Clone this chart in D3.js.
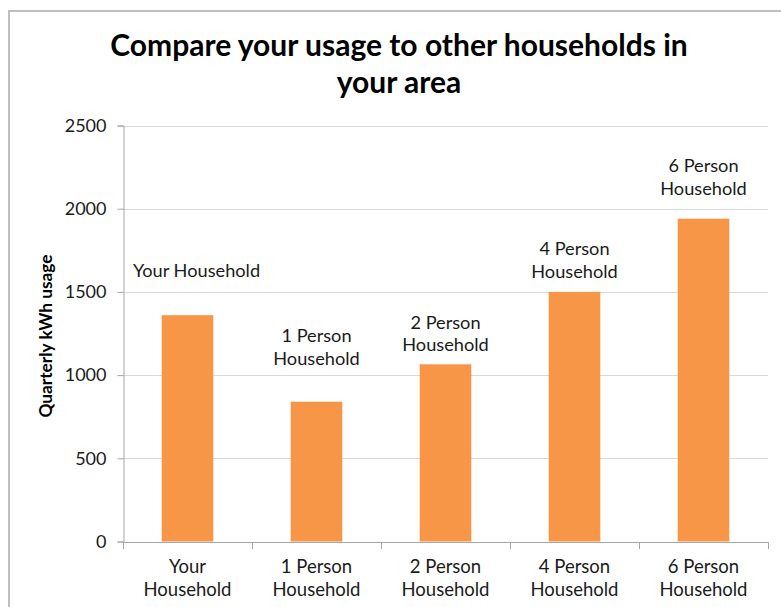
<!DOCTYPE html>
<html>
<head>
<meta charset="utf-8">
<script src="https://cdn.jsdelivr.net/npm/d3@7"></script>
<style>
  html, body { margin: 0; padding: 0; background: #fff; }
  svg { display: block; }
  text { font-family: Lato, "Open Sans", sans-serif; }
</style>
</head>
<body>
<svg id="chart" width="781" height="607"></svg>
<script>
// Quarterly kWh usage by household size
const categories = ["Your Household", "1 Person Household", "2 Person Household", "4 Person Household", "6 Person Household"];
const usage = [1360, 840, 1065, 1500, 1940];
const dataLabels = [["Your Household"], ["1 Person", "Household"], ["2 Person", "Household"], ["4 Person", "Household"], ["6 Person", "Household"]];
const yTicks = [0, 500, 1000, 1500, 2000, 2500];
const titleLines = ["Compare your usage to other households in", "your area"];
const yTitle = "Quarterly kWh usage";

const svg = d3.select("#chart");
const plot = { left: 123, right: 768, top: 125.5, bottom: 541.5 };

// outer chart frame
svg.append("rect")
  .attr("x", 9).attr("y", 11)
  .attr("width", 800).attr("height", 620)
  .attr("fill", "#fff")
  .attr("stroke", "#bfbfbf").attr("stroke-width", 2);

const x = d3.scaleBand()
  .domain(categories)
  .range([plot.left, plot.right])
  .paddingInner(0.6)
  .paddingOuter(0.3);

const y = d3.scaleLinear()
  .domain([0, 2500])
  .range([plot.bottom, plot.top]);

// horizontal gridlines
svg.append("g")
  .selectAll("line")
  .data(yTicks.filter(t => t > 0))
  .join("line")
  .attr("x1", plot.left).attr("x2", plot.right)
  .attr("y1", d => Math.round(y(d)) + 0.5).attr("y2", d => Math.round(y(d)) + 0.5)
  .attr("stroke", "#d9d9d9").attr("stroke-width", 1);

// bars
svg.append("g")
  .selectAll("rect")
  .data(categories)
  .join("rect")
  .attr("x", d => x(d))
  .attr("width", x.bandwidth())
  .attr("y", (d, i) => y(usage[i]))
  .attr("height", (d, i) => y(0) - y(usage[i]))
  .attr("fill", "#f79646");

// y axis
const yAxis = svg.append("g")
  .attr("transform", `translate(${plot.left + 0.5},0)`)
  .call(d3.axisLeft(y).tickValues(yTicks).tickFormat(d3.format("d")).tickSize(6).tickPadding(11));
yAxis.select(".domain").attr("stroke", "#a6a6a6");
yAxis.selectAll(".tick line").attr("stroke", "#a6a6a6");
yAxis.selectAll(".tick text")
  .attr("font-family", "Lato, sans-serif")
  .attr("font-size", 18)
  .attr("fill", "#1a1a1a");

// x axis line with ticks on category boundaries
const step = x.step();
const bounds = categories.map(c => x(c) - (step - x.bandwidth()) / 2);
bounds.push(bounds[bounds.length - 1] + step);
const xAxis = svg.append("g");
xAxis.append("line")
  .attr("x1", plot.left).attr("x2", plot.right)
  .attr("y1", Math.round(y(0)) + 0.5).attr("y2", Math.round(y(0)) + 0.5)
  .attr("stroke", "#a6a6a6");
xAxis.selectAll("line.tk")
  .data(bounds)
  .join("line")
  .attr("class", "tk")
  .attr("x1", d => Math.round(d) + 0.5).attr("x2", d => Math.round(d) + 0.5)
  .attr("y1", Math.round(y(0))).attr("y2", Math.round(y(0)) + 7)
  .attr("stroke", "#a6a6a6");

// category labels, two lines each
const catText = xAxis.selectAll("text.cat")
  .data(categories)
  .join("text")
  .attr("class", "cat")
  .attr("text-anchor", "middle")
  .attr("font-size", 18.5)
  .attr("fill", "#1a1a1a");
catText.each(function (d) {
  const cut = d.lastIndexOf(" ");
  const cx = x(d) + x.bandwidth() / 2;
  const t = d3.select(this);
  t.append("tspan").attr("x", cx).attr("y", 573).text(d.slice(0, cut));
  t.append("tspan").attr("x", cx).attr("y", 596).text(d.slice(cut + 1));
});

// data labels above bars (last-line baseline lift from bar top, horizontal nudge)
const labelLift = [38, 37, 13, 14, 24];
const labelNudge = [9, 0, 0, 0, 0];
svg.append("g")
  .selectAll("text")
  .data(dataLabels)
  .join("text")
  .attr("text-anchor", "middle")
  .attr("font-size", 18.2)
  .attr("fill", "#1a1a1a")
  .each(function (lines, i) {
    const cx = x(categories[i]) + x.bandwidth() / 2 + labelNudge[i];
    const base = y(usage[i]) - labelLift[i];
    const t = d3.select(this);
    lines.forEach((ln, k) => {
      t.append("tspan")
        .attr("x", cx)
        .attr("y", base - (lines.length - 1 - k) * 22.5)
        .text(ln);
    });
  });

// y axis title
svg.append("text")
  .attr("transform", "translate(52,336) rotate(-90)")
  .attr("text-anchor", "middle")
  .attr("font-size", 17.3)
  .attr("font-weight", 700)
  .attr("fill", "#000")
  .text(yTitle);

// chart title
svg.append("g")
  .selectAll("text")
  .data(titleLines)
  .join("text")
  .attr("x", 399)
  .attr("y", (d, i) => 56 + i * 37)
  .attr("text-anchor", "middle")
  .attr("font-size", 30)
  .attr("font-weight", 700)
  .attr("fill", "#000")
  .text(d => d);
</script>
</body>
</html>
